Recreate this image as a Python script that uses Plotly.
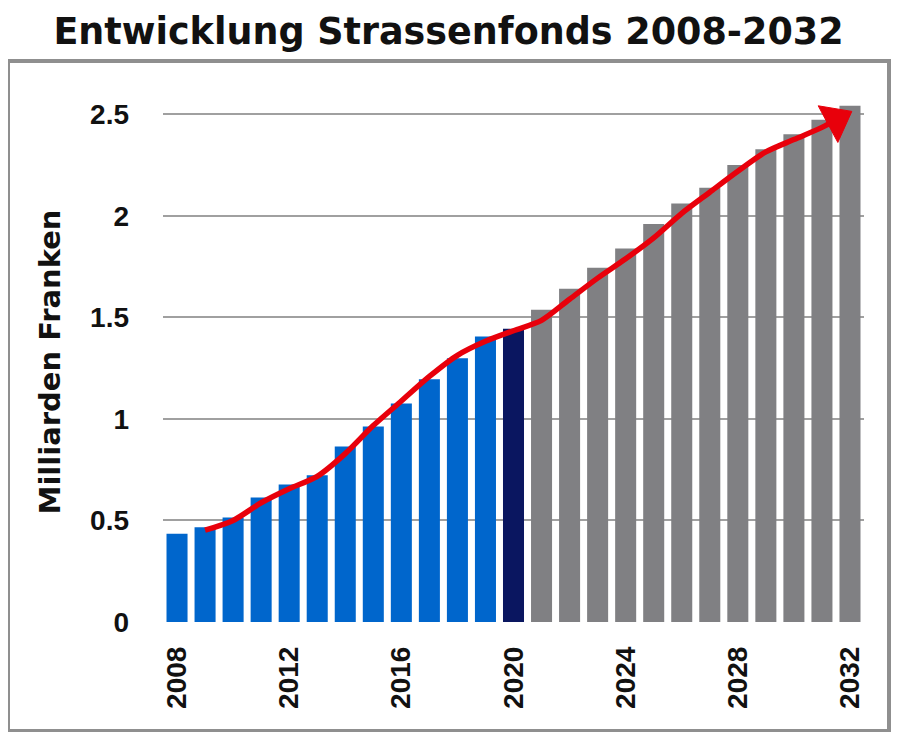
import plotly.graph_objects as go

years = list(range(2008, 2033))
values = [0.435, 0.466, 0.515, 0.613, 0.677, 0.722, 0.864, 0.962, 1.076, 1.195, 1.299, 1.406, 1.444,
          1.537, 1.641, 1.744, 1.839, 1.960, 2.060, 2.138, 2.250, 2.328, 2.401, 2.473, 2.542]
# trend line; the last point is the centre of the arrowhead
trend_x = [2009, 2010, 2011, 2012, 2013, 2014, 2015, 2016, 2017, 2018, 2019, 2020,
           2021, 2022, 2023, 2024, 2025, 2026, 2027, 2028, 2029, 2030, 2031, 2031.5]
trend_values = [0.452, 0.50, 0.587, 0.656, 0.717, 0.829, 0.967, 1.088, 1.209, 1.313, 1.382, 1.434,
                1.485, 1.589, 1.693, 1.788, 1.891, 2.012, 2.116, 2.219, 2.314, 2.375, 2.435, 2.472]
tick_years = [2008, 2012, 2016, 2020, 2024, 2028, 2032]
y_ticks = [0, 0.5, 1, 1.5, 2, 2.5]
y_tick_labels = ["0", "0.5", "1", "1.5", "2", "2.5"]

BLUE = "#0066cc"
NAVY = "#0a1660"
GRAY = "#808083"
RED = "#e8000b"
colors = [BLUE if y < 2020 else (NAVY if y == 2020 else GRAY) for y in years]

fig = go.Figure()
fig.add_trace(go.Bar(x=years, y=values, marker=dict(color=colors, line=dict(width=0)), width=0.75,
                     hoverinfo="x+y"))
sizes = [0] * (len(trend_x) - 1) + [36]
fig.add_trace(go.Scatter(x=trend_x, y=trend_values, mode="lines+markers",
                         line=dict(color=RED, width=5.5, shape="spline", smoothing=0.8),
                         marker=dict(symbol="triangle-up", angleref="previous", size=sizes, color=RED,
                                     opacity=1, line=dict(width=1, color=RED))))

# page has an 8px body margin; figure coordinates are page coordinates minus 8
W, H = 884, 724
L, R, T, B = 155, 28, 94, 110
pw, ph = W - L - R, H - T - B

def px_x(px):
    return (px - L) / pw

def px_y(py):
    return (H - B - py) / ph

fig.add_shape(type="rect", xref="paper", yref="paper",
              x0=px_x(0), x1=px_x(881), y0=px_y(723), y1=px_y(53),
              line=dict(color="#8f8f8f", width=4), fillcolor="rgba(0,0,0,0)", layer="below")
fig.add_shape(type="line", xref="paper", yref="paper",
              x0=px_x(885), x1=px_x(885), y0=px_y(723), y1=px_y(55),
              line=dict(color="#c8c8c8", width=2), layer="below")

fig.update_layout(
    width=W, height=H,
    margin=dict(l=L, r=R, t=T, b=B),
    paper_bgcolor="white", plot_bgcolor="white",
    showlegend=False,
    bargap=0.25,
    title=dict(text="<b>Entwicklung Strassenfonds 2008-2032</b>", x=(448.5 - 8) / W,
               xref="container", y=1 - 23 / H, yref="container", xanchor="center", yanchor="middle",
               font=dict(family="DejaVu Sans", size=36.5, color="#111")),
    xaxis=dict(range=[2007.5, 2032.5], tickmode="array", tickvals=tick_years,
               ticktext=[str(t) for t in tick_years], tickangle=-90,
               tickfont=dict(family="Liberation Sans", size=28, color="#111", weight="bold"),
               showgrid=False, zeroline=False, showline=False, ticks="", ticklen=0,
               ticklabelstandoff=18),
    yaxis=dict(range=[0, 2.56], tickmode="array", tickvals=y_ticks, ticktext=y_tick_labels,
               tickfont=dict(family="Liberation Sans", size=28, color="#111", weight="bold"),
               showgrid=True, gridcolor="#a0a0a0", gridwidth=2, zeroline=False, showline=False,
               ticks="", ticklabelstandoff=33,
               title=dict(text="<b>Milliarden Franken</b>", standoff=20,
                          font=dict(family="DejaVu Sans", size=29, color="#111"))),
)

fig.write_html("out.html")
